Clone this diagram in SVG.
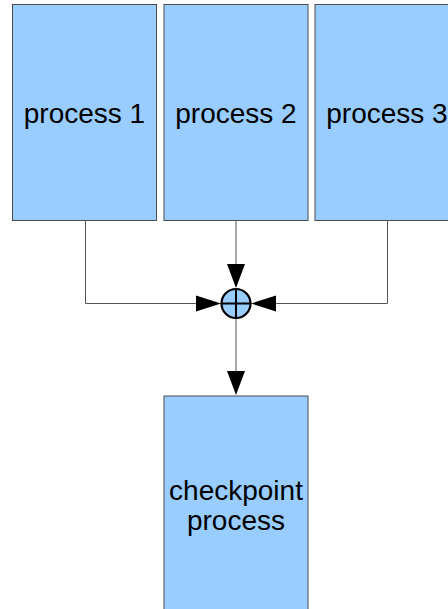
<svg xmlns="http://www.w3.org/2000/svg" width="448" height="609" viewBox="0 0 448 609">
<style>
.box{fill:#99ccff;stroke:#4a4a4a;stroke-width:1}
.lbl{font-family:"Liberation Sans",Arial,sans-serif;font-size:28px;fill:#000;text-anchor:middle}
.conn{fill:none;stroke:#555;stroke-width:1}
.arr{fill:#000;stroke:none}
</style>
<rect width="448" height="609" fill="#fff"/>
<g id="process1"><rect class="box" x="12.5" y="4.5" width="144" height="216"/><text class="lbl" x="84.5" y="123">process 1</text></g>
<g id="process2"><rect class="box" x="164" y="4.5" width="144" height="216"/><text class="lbl" x="236" y="123">process 2</text></g>
<g id="process3"><rect class="box" x="315" y="4.5" width="144" height="216"/><text class="lbl" x="387" y="123">process 3</text></g>
<g id="checkpoint"><rect class="box" x="164" y="396" width="144" height="230"/><text class="lbl" x="236" y="500">checkpoint</text><text class="lbl" x="236" y="530">process</text></g>
<g id="connectors">
<path class="conn" d="M85.5 221 V303.5 H200"/>
<path class="conn" d="M387.5 221 V303.5 H272"/>
<path class="conn" d="M236 221 V268"/>
<path class="conn" d="M236 318 V374"/>
<polygon class="arr" points="227,264 245,264 236,288"/>
<polygon class="arr" points="196,295.5 196,311.5 221,303.5"/>
<polygon class="arr" points="276,295.5 276,311.5 251,303.5"/>
<polygon class="arr" points="227,371 245,371 236,395"/>
</g>
<g id="junction"><circle cx="236" cy="303.5" r="14.5" fill="#99ccff" stroke="#000" stroke-width="2.2"/><path d="M221.5 303.5 H250.5 M236 289 V318" stroke="#000" stroke-width="2"/></g>
</svg>
